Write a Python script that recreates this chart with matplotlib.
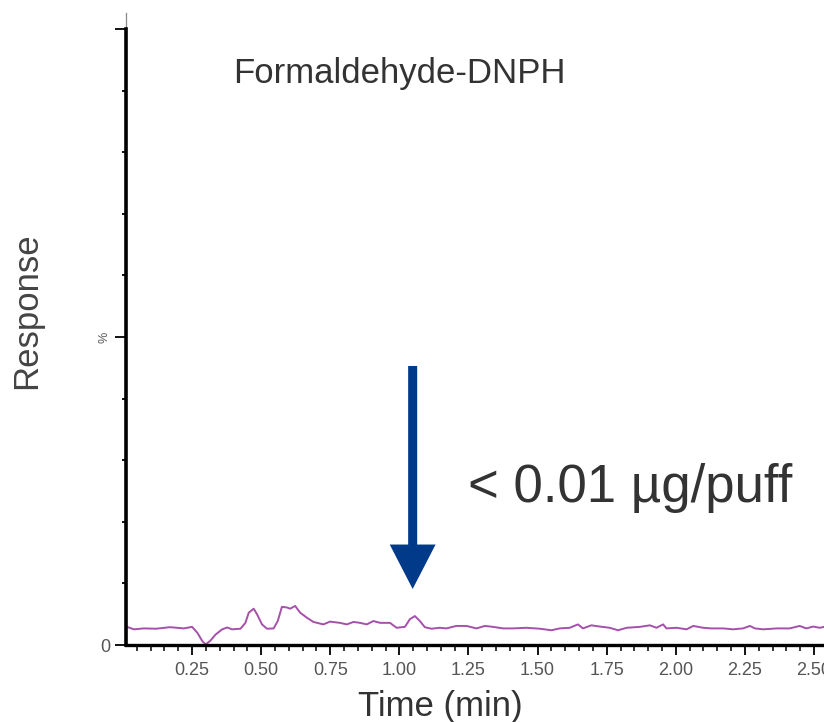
import numpy as np
import matplotlib.pyplot as plt
from matplotlib.ticker import MultipleLocator, FixedLocator

# chromatogram trace (time in min, response in %)
time = [0.011, 0.04, 0.075, 0.12, 0.17, 0.22, 0.25, 0.269, 0.287, 0.299, 0.315,
        0.335, 0.359, 0.377, 0.395, 0.425, 0.443, 0.455, 0.473, 0.485, 0.503,
        0.521, 0.545, 0.56, 0.575, 0.593, 0.605, 0.623, 0.641, 0.665, 0.689,
        0.725, 0.749, 0.785, 0.81, 0.834, 0.858, 0.882, 0.906, 0.93, 0.966,
        0.99, 1.02, 1.038, 1.056, 1.074, 1.092, 1.116, 1.146, 1.17, 1.206,
        1.243, 1.279, 1.309, 1.339, 1.375, 1.411, 1.459, 1.508, 1.55, 1.58,
        1.616, 1.646, 1.664, 1.694, 1.725, 1.761, 1.791, 1.822, 1.87, 1.906,
        1.93, 1.954, 1.966, 2.003, 2.039, 2.063, 2.099, 2.129, 2.171, 2.207,
        2.243, 2.268, 2.286, 2.316, 2.364, 2.412, 2.448, 2.472, 2.497, 2.521, 2.536]
response = [3.0, 2.55, 2.7, 2.65, 2.9, 2.7, 2.95, 2.0, 0.65, 0.1, 0.65,
            1.7, 2.55, 2.85, 2.55, 2.65, 3.6, 5.25, 5.9, 5.0, 3.35,
            2.65, 2.7, 3.9, 6.2, 6.1, 5.9, 6.35, 5.25, 4.45, 3.75,
            3.35, 3.8, 3.6, 3.35, 3.75, 3.6, 3.35, 3.9, 3.6, 3.6,
            2.8, 2.95, 4.2, 4.7, 3.9, 2.9, 2.65, 2.8, 2.7, 3.1,
            3.1, 2.7, 3.1, 2.95, 2.7, 2.7, 2.8, 2.65, 2.4, 2.7,
            2.8, 3.35, 2.7, 3.2, 3.0, 2.8, 2.4, 2.8, 2.95, 3.2,
            2.8, 3.35, 2.7, 2.8, 2.55, 3.1, 2.8, 2.7, 2.7, 2.55,
            2.7, 3.1, 2.7, 2.55, 2.7, 2.7, 3.1, 2.7, 3.0, 2.8, 2.95]

compound = "Formaldehyde-DNPH"
result = "< 0.01 µg/puff"
peak_time = 1.048

plt.rcParams['font.family'] = ['Liberation Sans', 'DejaVu Sans']

fig = plt.figure(figsize=(8.24, 7.22), dpi=100)
ax = fig.add_axes([0.1529, 0.1066, 0.8471, 0.8532])

ax.plot(time, response, color='#a550aa', lw=1.4)

ax.set_xlim(0.011, 2.536)
ax.set_ylim(0, 100)

ax.spines['top'].set_visible(False)
ax.spines['right'].set_visible(False)
ax.spines['left'].set_linewidth(2.6)
ax.spines['bottom'].set_linewidth(2.4)
# thin grey line running beside the y axis, a bit past the top
ax.plot([0.0, 0.0], [0.0, 1.026], transform=ax.transAxes, color='#888888',
        lw=0.9, clip_on=False)

ax.xaxis.set_major_locator(FixedLocator([0.25, 0.5, 0.75, 1.0, 1.25, 1.5, 1.75, 2.0, 2.25, 2.5]))
ax.xaxis.set_minor_locator(MultipleLocator(0.05))
ax.set_xticklabels(['0.25', '0.50', '0.75', '1.00', '1.25', '1.50', '1.75', '2.00', '2.25', '2.50'])
ax.tick_params(axis='x', which='major', length=7, width=1.3, colors='black',
               labelcolor='#555555', labelsize=13, pad=5)
ax.tick_params(axis='x', which='minor', length=4, width=1.1, colors='black')

ax.yaxis.set_major_locator(FixedLocator([0, 50, 100]))
ax.yaxis.set_minor_locator(MultipleLocator(10))
ax.set_yticklabels(['0', '%', ''])
ax.tick_params(axis='y', which='major', length=8, width=1.3, colors='black',
               labelcolor='#555555', labelsize=13, pad=3)
ax.tick_params(axis='y', which='minor', length=3, width=1.3, colors='black')
pct = ax.get_yticklabels()[1]
pct.set_rotation(90)
pct.set_fontsize(9)
pct.set_va('center')

ax.set_xlabel('Time (min)', fontsize=25, color='#333333')
ax.xaxis.set_label_coords(0.451, -0.073)
ax.set_ylabel('Response', fontsize=25, color='#444444')
ax.yaxis.set_label_coords(-0.119, 0.542)

ax.text(0.398, 91.3, compound, fontsize=25, color='#333333', va='baseline', ha='left')
ax.text(1.248, 23.3, result, fontsize=38, color='#333333', va='baseline', ha='left')

ax.annotate('', xy=(peak_time, 9.1), xytext=(peak_time, 45.3),
            arrowprops=dict(arrowstyle='simple,head_length=3.2,head_width=3.3,tail_width=0.65',
                            color='#023a8a', shrinkA=0, shrinkB=0, lw=0))

fig.savefig('out.png', dpi=100)
